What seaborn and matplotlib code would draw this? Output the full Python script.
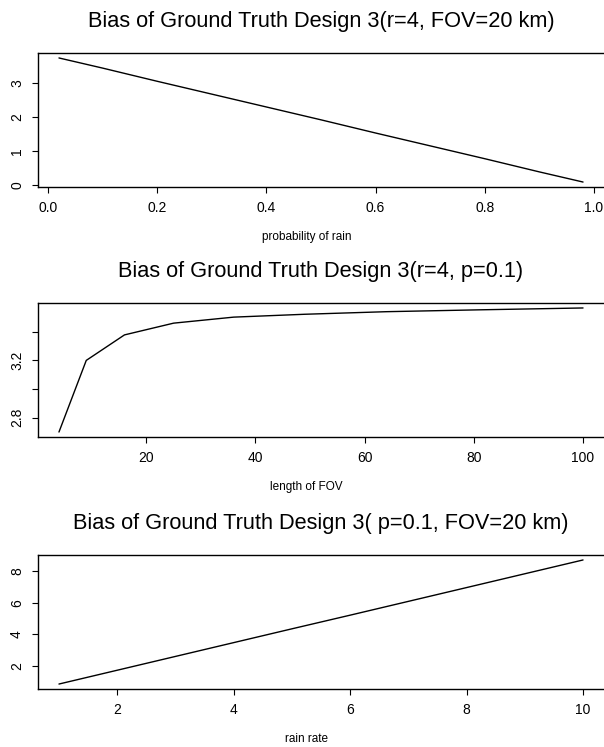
import matplotlib
matplotlib.use("Agg")
import matplotlib.pyplot as plt
import seaborn as sns
import pandas as pd

# Panel 1: bias vs probability of rain (r=4, FOV=20 km)
prob_rain = [0.02, 0.1, 0.2, 0.3, 0.4, 0.5, 0.6, 0.7, 0.8, 0.9, 0.98]
bias_prob = [3.75, 3.45, 3.06, 2.68, 2.30, 1.92, 1.53, 1.15, 0.77, 0.38, 0.08]

# Panel 2: bias vs length of FOV (r=4, p=0.1)
fov_len = [4, 9, 16, 25, 36, 49, 64, 81, 100]
bias_fov = [2.70, 3.20, 3.378, 3.46, 3.502, 3.522, 3.540, 3.553, 3.566]

# Panel 3: bias vs rain rate (p=0.1, FOV=20 km)
rain_rate = [1, 2, 3, 4, 5, 6, 7, 8, 9, 10]
bias_rate = [0.87, 1.74, 2.61, 3.48, 4.35, 5.21, 6.08, 6.95, 7.82, 8.69]

titles = ["Bias of Ground Truth Design 3(r=4, FOV=20 km)",
          "Bias of Ground Truth Design 3(r=4, p=0.1)",
          "Bias of Ground Truth Design 3( p=0.1, FOV=20 km)"]
xlabels = ["probability of rain", "length of FOV", "rain rate"]
xticks = [[0.0, 0.2, 0.4, 0.6, 0.8, 1.0], [20, 40, 60, 80, 100], [2, 4, 6, 8, 10]]
xticklabels = [["0.0", "0.2", "0.4", "0.6", "0.8", "1.0"], ["20", "40", "60", "80", "100"],
               ["2", "4", "6", "8", "10"]]
yticks = [[0, 1, 2, 3], [2.8, 3.0, 3.2, 3.4], [2, 4, 6, 8]]
yticklabels = [["0", "1", "2", "3"], ["2.8", "", "3.2", ""], ["2", "4", "6", "8"]]

sns.set_theme(style="ticks")
plt.rcParams["font.family"] = ["Liberation Sans", "DejaVu Sans"]

W, H = 604, 747
fig = plt.figure(figsize=(W / 100, H / 100), dpi=100)

datasets = [(prob_rain, bias_prob), (fov_len, bias_fov), (rain_rate, bias_rate)]
box_tops = [53, 303, 555]
box_h = 134
left_px, right_px = 38, 604

for i, (xs, ys) in enumerate(datasets):
    top = box_tops[i]
    ax = fig.add_axes([left_px / W, 1 - (top + box_h) / H, (right_px - left_px) / W, box_h / H])
    df = pd.DataFrame({"x": xs, "y": ys})
    sns.lineplot(data=df, x="x", y="y", ax=ax, color="black", linewidth=1.0)
    xr = max(xs) - min(xs)
    yr = max(ys) - min(ys)
    ax.set_xlim(min(xs) - 0.04 * xr, max(xs) + 0.04 * xr)
    ax.set_ylim(min(ys) - 0.04 * yr, max(ys) + 0.04 * yr)
    ax.set_xticks(xticks[i])
    ax.set_xticklabels(xticklabels[i], fontsize=10)
    ax.set_yticks(yticks[i])
    ax.set_yticklabels(yticklabels[i], fontsize=10, rotation=90, va="center")
    ax.tick_params(axis="both", direction="out", length=4, width=0.8, colors="black", pad=6)
    ax.set_xlabel(xlabels[i], fontsize=8.5, color="black")
    ax.xaxis.set_label_coords(0.474, -0.33)
    ax.set_ylabel("")
    for s in ["left", "top", "bottom"]:
        ax.spines[s].set_visible(True)
        ax.spines[s].set_color("black")
        ax.spines[s].set_linewidth(1.0)
    ax.spines["right"].set_visible(False)
    ax.set_title(titles[i], fontsize=15.7, pad=19, color="black")

fig.savefig("out.png", dpi=100, facecolor="white")
